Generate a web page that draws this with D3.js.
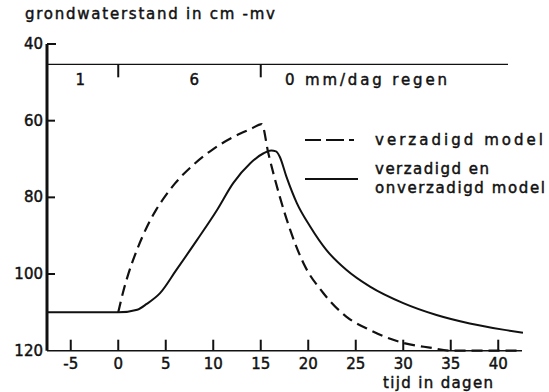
<!DOCTYPE html>
<html>
<head>
<meta charset="utf-8">
<script src="https://cdn.jsdelivr.net/npm/d3@7"></script>
<style>
  body { margin: 0; background: #fff; }
  svg text { font-family: "DejaVu Sans", sans-serif; fill: #111; stroke: #111; stroke-width: 0.45; }
</style>
</head>
<body>
<div id="chart"></div>
<script>
// verzadigd model (dashed)
const satDays   = [0, 0.5, 1, 2, 3, 4, 5, 6, 8, 10, 12, 14, 15.1, 15.8, 17.0, 18.1, 19.5, 21.6, 24.0, 26.5, 28.0, 30.2, 32.8, 35.2, 38.0, 42.5];
const satLevel  = [110, 104.8, 100.5, 93.5, 87.8, 83.2, 79.5, 76.3, 71.3, 67.4, 64.4, 62.1, 60.9, 68.5, 79.8, 88.5, 97.2, 105, 111.1, 114.6, 116.3, 118.1, 119.2, 120, 120, 120];

// verzadigd en onverzadigd model (solid)
const bothDays  = [-7.5, 0, 2.0, 3.0, 4.4, 6.1, 8.3, 10.4, 12.1, 13.9, 15.3, 16.1, 16.6, 17.0, 17.7, 18.8, 20.2, 21.9, 24.0, 26.5, 30.0, 33.5, 37.0, 40.5, 42.6];
const bothLevel = [110, 110, 109.3, 107.8, 105, 99, 91.1, 83.3, 76.3, 71.1, 68.5, 67.8, 68.0, 69.4, 74.6, 81.5, 87.6, 93.7, 98.9, 103.3, 107.6, 110.7, 112.9, 114.5, 115.3];

const xTicks = [-5, 0, 5, 10, 15, 20, 25, 30, 35, 40];
const yTicks = [40, 60, 80, 100, 120];

// regen per periode (mm/dag)
const rainBreaks = [0, 15];
const rainLabels = [
    { day: -4, text: '1' },
    { day: 8, text: '6' }
];
const rainLevel = 45.3;

const width = 549;
const height = 392;

const x = d3.scaleLinear().domain([-7.5, 42.5]).range([47, 522]);
const y = d3.scaleLinear().domain([40, 120]).range([44, 350.7]);

const svg = d3.select('#chart')
    .append('svg')
    .attr('width', width)
    .attr('height', height);

svg.append('rect').attr('width', width).attr('height', height).attr('fill', '#fff');

// title
svg.append('text')
    .attr('x', 25).attr('y', 19)
    .attr('font-size', 15)
    .attr('textLength', 250)
    .attr('lengthAdjust', 'spacing')
    .text('grondwaterstand in cm -mv');

// left axis
svg.append('line')
    .attr('x1', x(-7.5)).attr('x2', x(-7.5))
    .attr('y1', y(40)).attr('y2', y(120))
    .attr('stroke', '#111').attr('stroke-width', 3);

const yAxis = svg.append('g');
yAxis.selectAll('line').data(yTicks.slice(0, 4)).enter().append('line')
    .attr('x1', x(-7.5)).attr('x2', (d, i) => x(-7.5) + (i === 0 ? 9 : 8))
    .attr('y1', d => y(d)).attr('y2', d => y(d))
    .attr('stroke', '#111').attr('stroke-width', 2);
yAxis.selectAll('text').data(yTicks).enter().append('text')
    .attr('x', 43).attr('y', d => y(d) + 5)
    .attr('text-anchor', 'end')
    .attr('font-size', 15)
    .text(d => d);

// bottom axis
svg.append('line')
    .attr('x1', x(-7.5)).attr('x2', x(42.5))
    .attr('y1', y(120)).attr('y2', y(120))
    .attr('stroke', '#111').attr('stroke-width', 1.5);

const xAxis = svg.append('g');
xAxis.selectAll('line').data(xTicks).enter().append('line')
    .attr('x1', d => x(d)).attr('x2', d => x(d))
    .attr('y1', y(120)).attr('y2', y(120) - 11)
    .attr('stroke', '#111').attr('stroke-width', 2);
xAxis.selectAll('text').data(xTicks).enter().append('text')
    .attr('x', d => x(d)).attr('y', y(120) + 18)
    .attr('text-anchor', 'middle')
    .attr('font-size', 15)
    .text(d => d);

svg.append('text')
    .attr('x', 383).attr('y', 388)
    .attr('font-size', 15)
    .attr('textLength', 110)
    .attr('lengthAdjust', 'spacing')
    .text('tijd in dagen');

// rain bar
svg.append('line')
    .attr('x1', x(-7.5)).attr('x2', 508)
    .attr('y1', y(rainLevel)).attr('y2', y(rainLevel))
    .attr('stroke', '#111').attr('stroke-width', 1.3);
svg.selectAll('.rainTick').data(rainBreaks).enter().append('line')
    .attr('class', 'rainTick')
    .attr('x1', d => x(d)).attr('x2', d => x(d))
    .attr('y1', y(rainLevel)).attr('y2', y(rainLevel) + 13)
    .attr('stroke', '#111').attr('stroke-width', 2);
svg.selectAll('.rainLabel').data(rainLabels).enter().append('text')
    .attr('class', 'rainLabel')
    .attr('x', d => x(d.day)).attr('y', y(rainLevel) + 21)
    .attr('text-anchor', 'middle')
    .attr('font-size', 15)
    .text(d => d.text);
svg.append('text')
    .attr('x', 285).attr('y', y(rainLevel) + 21)
    .attr('font-size', 15)
    .attr('textLength', 162)
    .attr('lengthAdjust', 'spacing')
    .text('0 mm/dag regen');

// curves
const line = d3.line()
    .x(d => x(d[0]))
    .y(d => y(d[1]))
    .curve(d3.curveMonotoneX);

svg.append('path')
    .datum(d3.zip(satDays, satLevel))
    .attr('d', line)
    .attr('fill', 'none')
    .attr('stroke', '#111')
    .attr('stroke-width', 2.2)
    .attr('stroke-dasharray', '11,6');

svg.append('path')
    .datum(d3.zip(bothDays, bothLevel))
    .attr('d', line)
    .attr('fill', 'none')
    .attr('stroke', '#111')
    .attr('stroke-width', 2);

// legend
const legend = svg.append('g');
legend.append('line')
    .attr('x1', 305).attr('x2', 358).attr('y1', 140).attr('y2', 140)
    .attr('stroke', '#111').attr('stroke-width', 1.8)
    .attr('stroke-dasharray', '16,5,18,5,5');
legend.append('text')
    .attr('x', 375).attr('y', 145)
    .attr('font-size', 15)
    .attr('textLength', 168)
    .attr('lengthAdjust', 'spacing')
    .text('verzadigd model');
legend.append('line')
    .attr('x1', 305).attr('x2', 358).attr('y1', 179).attr('y2', 179)
    .attr('stroke', '#111').attr('stroke-width', 1.8);
legend.append('text')
    .attr('x', 375).attr('y', 174)
    .attr('font-size', 15)
    .attr('textLength', 114)
    .attr('lengthAdjust', 'spacing')
    .text('verzadigd en');
legend.append('text')
    .attr('x', 375).attr('y', 193)
    .attr('font-size', 15)
    .attr('textLength', 170)
    .attr('lengthAdjust', 'spacing')
    .text('onverzadigd model');
</script>
</body>
</html>
